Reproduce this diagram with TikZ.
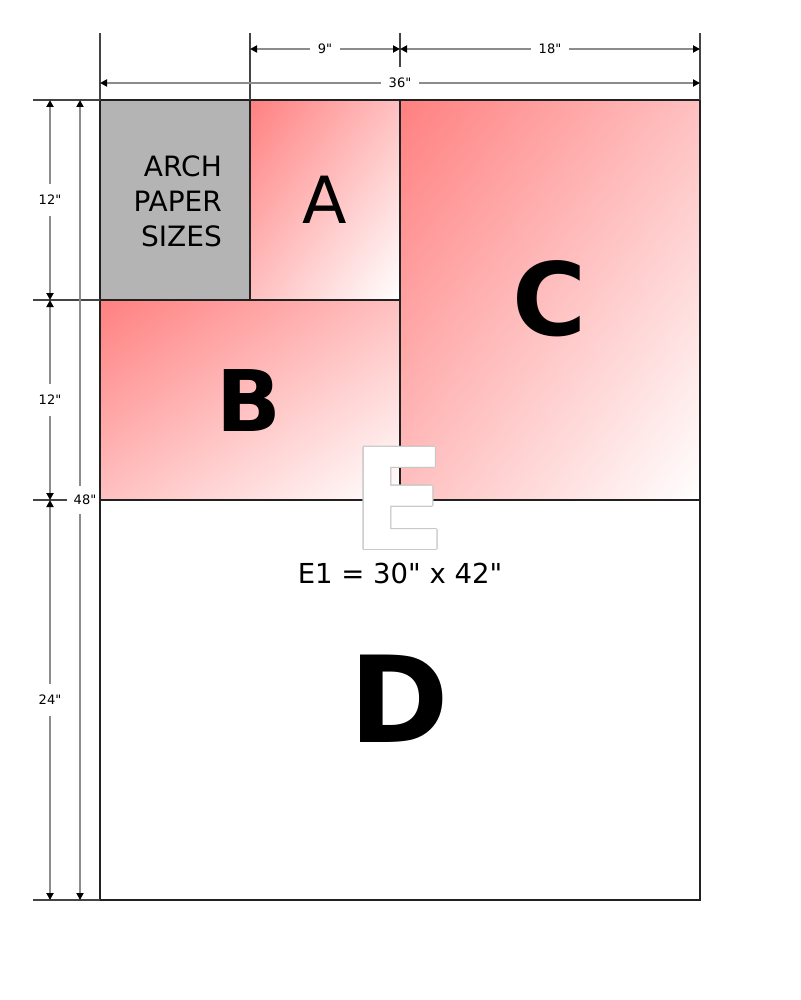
\documentclass[tikz,border=0pt]{standalone}
\usepackage{fontspec}
\setmainfont{DejaVu Sans}[Ligatures=TeXOff]
\usepackage[copies]{contour}
\usetikzlibrary{arrows.meta,shadings}
\definecolor{sheetred}{HTML}{FF8080}
\definecolor{sheetmid}{HTML}{FFC0C0}
\definecolor{archgray}{HTML}{B4B4B4}
\definecolor{extgray}{HTML}{444444}
\definecolor{dimgray}{HTML}{8C8C8C}
\definecolor{edgegray}{HTML}{C8C8C8}
\tikzset{
  sheet/.style={draw=black!87,line width=2pt},
  redsheet/.style={sheet,upper left=sheetred,lower right=white,upper right=sheetmid,lower left=sheetmid},
  extline/.style={draw=extgray,line width=2pt},
  dimline/.style={draw=dimgray,line width=2pt,{Triangle[length=7pt,width=7pt,color=black]}-{Triangle[length=7pt,width=7pt,color=black]}},
  hlabel/.style={fill=white,inner xsep=8pt,inner ysep=1pt,font=\fontsize{13}{15}\selectfont},
  vlabel/.style={fill=white,inner xsep=1pt,inner ysep=11pt,font=\fontsize{13}{15}\selectfont},
  bigletter/.style={inner sep=0pt}
}
\contourlength{1pt}
\begin{document}
\begin{tikzpicture}[x=1pt,y=-1pt]
        \useasboundingbox (0,0) rectangle (800,1000);
        %% Sheets
        \shade[redsheet] (400,100) rectangle (700,500);
        \shade[redsheet] (250,100) rectangle (400,300);
        \shade[redsheet] (100,300) rectangle (400,500);
        \draw[sheet] (400,100) rectangle (700,500);
        \draw[sheet] (250,100) rectangle (400,300);
        \draw[sheet] (100,300) rectangle (400,500);
        \draw[sheet,fill=archgray] (100,100) rectangle (250,300);
        \draw[sheet] (100,500) rectangle (700,900);
        \draw[sheet] (100,100) rectangle (700,900);
        %% Extension lines
        \draw[extline] (100,33) -- (100,100);
        \draw[extline] (250,33) -- (250,100);
        \draw[extline] (400,33) -- (400,67);
        \draw[extline] (700,33) -- (700,100);
        \draw[extline] (33,100) -- (100,100);
        \draw[extline] (33,300) -- (100,300);
        \draw[extline] (33,500) -- (67,500);
        \draw[extline] (33,900) -- (100,900);
        %% Dimensions
        \draw[dimline] (250,49) -- (400,49) node[hlabel,pos=0.5] (w9) {9"};
        \draw[dimline] (400,49) -- (700,49) node[hlabel,pos=0.5] (w18) {18"};
        \draw[dimline] (100,83) -- (700,83) node[hlabel,pos=0.5] (w36) {36"};
        \draw[dimline] (50,100) -- (50,300) node[vlabel,pos=0.5] (h12a) {12"};
        \draw[dimline] (50,300) -- (50,500) node[vlabel,pos=0.5] (h12b) {12"};
        \draw[dimline] (50,500) -- (50,900) node[vlabel,pos=0.5] (h24) {24"};
        \draw[dimline] (80,100) -- (80,900);
        \node[fill=white,inner xsep=1pt,inner ysep=9pt,font=\fontsize{13}{15}\selectfont] (h48) at (85,500) {48"};
        %% Labels
        \node[inner sep=0pt,anchor=east,align=right,font=\fontsize{28}{35}\selectfont] (title) at (222,201) {ARCH\\PAPER\\SIZES};
        \node[bigletter,font=\fontsize{65}{70}\selectfont] (A) at (325,200) {A};
        \node[bigletter,font=\fontsize{85}{90}\selectfont\bfseries] (B) at (249,401) {B};
        \node[bigletter,font=\fontsize{101}{105}\selectfont\bfseries] (C) at (550,299) {C};
        \node[bigletter,font=\fontsize{120}{125}\selectfont\bfseries] (D) at (399,699) {D};
        \node[bigletter,font=\fontsize{140}{145}\selectfont\bfseries] (E) at (399,499) {\contour{edgegray}{\textcolor{white}{E}}};
        \node[bigletter,font=\fontsize{27.5}{30}\selectfont] (E1) at (400,573) {E1 = 30" x 42"};
    \end{tikzpicture}
\end{document}
